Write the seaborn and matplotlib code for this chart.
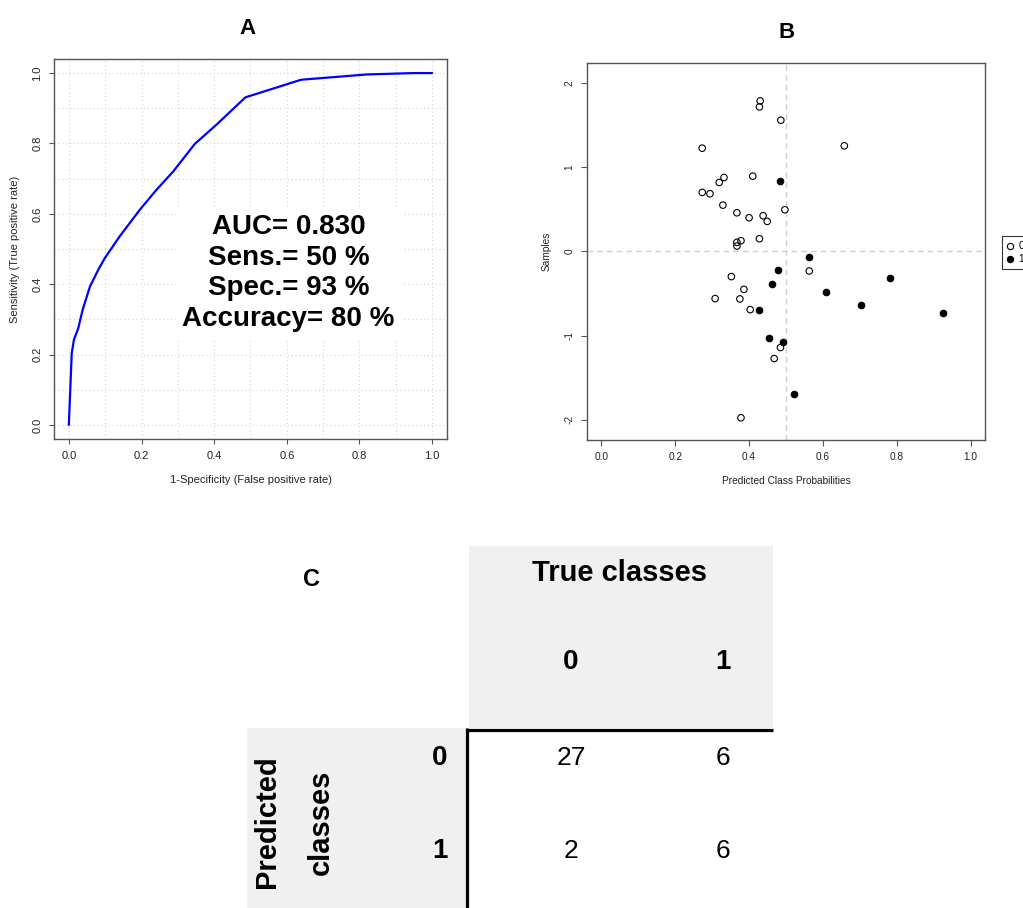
import numpy as np
import pandas as pd
import matplotlib
matplotlib.use("Agg")
import matplotlib.pyplot as plt
from matplotlib.colors import ListedColormap
from matplotlib.patches import Rectangle
from matplotlib.lines import Line2D
import seaborn as sns

sns.set_theme(style="white")
plt.rcParams['font.family'] = ['Liberation Sans', 'DejaVu Sans']
plt.rcParams['text.color'] = 'black'
plt.rcParams['axes.labelcolor'] = 'black'

# ---------------- data ----------------
# Panel A: ROC curve
fpr = [0.0, 0.008, 0.014, 0.026, 0.038, 0.058, 0.081, 0.099, 0.140,
       0.195, 0.241, 0.287, 0.347, 0.406, 0.486, 0.639, 0.819, 0.948, 1.0]
tpr = [0.0, 0.204, 0.242, 0.275, 0.327, 0.393, 0.441, 0.474, 0.536,
       0.611, 0.668, 0.720, 0.799, 0.853, 0.931, 0.981, 0.996, 1.000, 1.0]
auc_val = 0.830
sens_pct = 50
spec_pct = 93
acc_pct = 80

# Panel B: predicted probabilities vs samples
prob_class0 = [0.430, 0.428, 0.486, 0.273, 0.658, 0.410, 0.332, 0.319, 0.273, 0.294,
               0.329, 0.497, 0.367, 0.400, 0.438, 0.449, 0.428, 0.378, 0.367, 0.367,
               0.563, 0.352, 0.386, 0.308, 0.375, 0.403, 0.485, 0.468, 0.378]
samp_class0 = [1.787, 1.715, 1.557, 1.225, 1.253, 0.893, 0.877, 0.818, 0.700, 0.684,
               0.549, 0.494, 0.458, 0.399, 0.423, 0.356, 0.150, 0.126, 0.107, 0.063,
               -0.233, -0.300, -0.451, -0.561, -0.565, -0.692, -1.142, -1.273, -1.976]
prob_class1 = [0.485, 0.561, 0.478, 0.461, 0.781, 0.609, 0.702, 0.925, 0.427, 0.455,
               0.492, 0.521]
samp_class1 = [0.838, -0.067, -0.221, -0.387, -0.312, -0.478, -0.632, -0.735, -0.700,
               -1.032, -1.075, -1.692]
class_labels = ['0', '1']

# Panel C: confusion matrix
conf_matrix = [[27, 6], [2, 6]]
pred_labels = ['0', '1']
true_labels = ['0', '1']

# ---------------- figure ----------------
W, H = 1023, 908
fig = plt.figure(figsize=(W / 100, H / 100), dpi=100)

def frac(l, t, r, b):
    return [l / W, 1 - b / H, (r - l) / W, (b - t) / H]

frame_col = '#555555'
tick_col = '#222222'

# background overlay (pixel coords) for panel C decoration and panel letters
ax_bg = fig.add_axes([0, 0, 1, 1], zorder=0)
ax_bg.set_xlim(0, W)
ax_bg.set_ylim(H, 0)
ax_bg.axis('off')
grey = '#f0f0f0'
ax_bg.add_patch(Rectangle((469, 546), 304, 182, facecolor=grey, edgecolor='none'))
ax_bg.add_patch(Rectangle((247, 728), 219, 182, facecolor=grey, edgecolor='none'))
ax_bg.plot([466, 773], [729.5, 729.5], color='black', lw=2.3, solid_capstyle='butt')
ax_bg.plot([467, 467], [728, 910], color='black', lw=2.3, solid_capstyle='butt')

fig.text(247 / W, 1 - 28 / H, 'A', ha='center', va='center', fontsize=16, fontweight='bold')
fig.text(787 / W, 1 - 32 / H, 'B', ha='center', va='center', fontsize=16, fontweight='bold')
fig.text(312 / W, 1 - 580 / H, 'C', ha='center', va='center', fontsize=17, fontweight='bold')

# ---------------- Panel A ----------------
ax_a = fig.add_axes(frac(54.3, 59, 446.7, 439), zorder=1)
ax_a.set_xlim(-0.04, 1.04)
ax_a.set_ylim(-0.04, 1.04)
ax_a.set_xticks(np.arange(0, 1.01, 0.1), minor=True)
ax_a.set_yticks(np.arange(0, 1.01, 0.1), minor=True)
ax_a.grid(which='both', ls=(0, (1, 2.5)), color='#d4d4d4', lw=0.8)
ax_a.set_axisbelow(True)
sns.lineplot(x=fpr, y=tpr, sort=False, estimator=None, color='#0000ff', lw=1.6, ax=ax_a)
ax_a.set_xticks([0, 0.2, 0.4, 0.6, 0.8, 1.0])
ax_a.set_yticks([0, 0.2, 0.4, 0.6, 0.8, 1.0])
ax_a.set_xticklabels(['0.0', '0.2', '0.4', '0.6', '0.8', '1.0'])
ax_a.set_yticklabels(['0.0', '0.2', '0.4', '0.6', '0.8', '1.0'], rotation=90, va='center')
ax_a.tick_params(which='major', length=3.6, width=0.8, color=frame_col, labelcolor=tick_col,
                 labelsize=8, pad=5, bottom=True, left=True)
ax_a.tick_params(which='minor', length=0)
for s in ax_a.spines.values():
    s.set_color(frame_col)
    s.set_linewidth(1.0)
    s.set_visible(True)
ax_a.set_xlabel('1-Specificity (False positive rate)', fontsize=8, color=tick_col, labelpad=10)
ax_a.set_ylabel('Sensitivity (True positive rate)', fontsize=8, color=tick_col, labelpad=9)
stats_text = (f"AUC= {auc_val:.3f}\nSens.= {sens_pct} %\n"
              f"Spec.= {spec_pct} %\nAccuracy= {acc_pct} %")
ax_a.text(0.605, 0.432, stats_text, ha='center', va='center', fontsize=20, fontweight='bold',
          color='black', linespacing=1.23,
          bbox=dict(facecolor='white', edgecolor='none', pad=5))

# ---------------- Panel B ----------------
ax_b = fig.add_axes(frac(586.7, 62.7, 985.3, 440), zorder=1)
ax_b.set_xlim(-0.04, 1.04)
ax_b.set_ylim(-2.24, 2.24)
ax_b.axvline(0.5, ls=(0, (4, 3)), color='#cfcfcf', lw=1.0, zorder=0)
ax_b.axhline(0.0, ls=(0, (4, 3)), color='#cfcfcf', lw=1.0, zorder=0)
sns.scatterplot(x=prob_class0, y=samp_class0, ax=ax_b, marker='o', s=22,
                facecolor='none', edgecolor='black', linewidth=0.8, zorder=3)
sns.scatterplot(x=prob_class1, y=samp_class1, ax=ax_b, marker='o', s=22,
                color='black', edgecolor='black', linewidth=0.8, zorder=3)
ax_b.set_xticks([0, 0.2, 0.4, 0.6, 0.8, 1.0])
ax_b.set_xticklabels(['0.0', '0.2', '0.4', '0.6', '0.8', '1.0'])
ax_b.set_yticks([-2, -1, 0, 1, 2])
ax_b.set_yticklabels(['-2', '-1', '0', '1', '2'], rotation=90, va='center')
ax_b.tick_params(length=4, width=0.8, color=frame_col, labelcolor=tick_col,
                 labelsize=7.3, pad=5, bottom=True, left=True)
for s in ax_b.spines.values():
    s.set_color(frame_col)
    s.set_linewidth(1.0)
    s.set_visible(True)
ax_b.set_xlabel('Predicted Class Probabilities', fontsize=7.3, color=tick_col, labelpad=10)
ax_b.set_ylabel('Samples', fontsize=7.3, color=tick_col, labelpad=9)
handles = [Line2D([], [], ls='none', marker='o', markersize=4.5, markerfacecolor='none',
                  markeredgecolor='black', markeredgewidth=0.8),
           Line2D([], [], ls='none', marker='o', markersize=4.5, markerfacecolor='black',
                  markeredgecolor='black', markeredgewidth=0.8)]
leg = ax_b.legend(handles, class_labels, loc='upper left',
                  bbox_to_anchor=(1002 / W, 1 - 236 / H), bbox_transform=fig.transFigure,
                  frameon=True, fancybox=False, edgecolor='black', fontsize=7.3,
                  handlelength=0.6, handletextpad=0.5, borderpad=0.5, labelspacing=0.3,
                  borderaxespad=0, labelcolor='black')
leg.get_frame().set_linewidth(0.8)

# ---------------- Panel C ----------------
cm_df = pd.DataFrame(conf_matrix, index=pred_labels, columns=true_labels)
ax_c = fig.add_axes(frac(495, 711.5, 799, 897.5), zorder=2)
sns.heatmap(cm_df, ax=ax_c, cmap=ListedColormap([(1, 1, 1, 0)]), cbar=False,
            annot=True, fmt='d', annot_kws={'fontsize': 19, 'color': 'black'},
            linewidths=0)
ax_c.set_facecolor('none')
ax_c.set_xlabel('')
ax_c.set_ylabel('')
ax_c.xaxis.tick_top()
ax_c.tick_params(axis='x', length=0, pad=26, labelsize=20, labelcolor='black')
ax_c.tick_params(axis='y', length=0, pad=34, labelsize=20, labelcolor='black')
for lab in ax_c.get_xticklabels():
    lab.set_fontweight('bold')
for lab in ax_c.get_yticklabels():
    lab.set_fontweight('bold')
    lab.set_rotation(0)

ax_bg.text(620, 573, 'True classes', ha='center', va='center', fontsize=21, fontweight='bold')
ax_bg.text(267, 822, 'Predicted', ha='center', va='center', fontsize=21, fontweight='bold', rotation=90)
ax_bg.text(321, 822, 'classes', ha='center', va='center', fontsize=21, fontweight='bold', rotation=90)

fig.savefig('out.png', dpi=100)
